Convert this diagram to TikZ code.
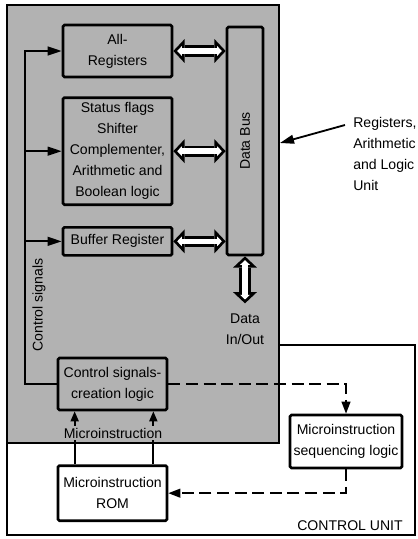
\documentclass[tikz,border=0pt]{standalone}
\usepackage{fontspec}
\setmainfont{Liberation Sans}
\usetikzlibrary{positioning,arrows.meta,calc}
\definecolor{halftone}{RGB}{178,178,178}
\tikzset{
  box/.style={draw, line width=1.9pt, rounded corners=1pt, minimum width=27.25mm,
              align=center, inner sep=1pt, font=\fontsize{10}{15}\selectfont},
  whitebox/.style={box, fill=white},
  sig/.style={line width=1.3pt, -{Triangle[length=3.5mm,width=2.2mm]}},
  tick/.style={line width=1.3pt, -{Triangle[length=2.5mm,width=2mm]}},
  seqline/.style={line width=1.2pt, dash pattern=on 3mm off 1.4mm,
                  -{Triangle[length=3mm,width=2.2mm]}},
  busarrow/.style={line width=8pt,
    {Triangle[length=8pt,width=17pt,line width=0pt]}-{Triangle[length=8pt,width=17pt,line width=0pt]},
    postaction={draw=white, line width=4pt, shorten >=2.75pt, shorten <=2.75pt,
    {Triangle[length=3.25pt,width=6.9pt,line width=0pt]}-{Triangle[length=3.25pt,width=6.9pt,line width=0pt]}}},
  lbl/.style={font=\fontsize{10}{15}\selectfont, align=center, inner sep=0pt}
}
\begin{document}
\begin{tikzpicture}[x=0.25mm, y=-0.25mm]
  \useasboundingbox (0,0) rectangle (417,539);
  % control unit frame, then the shaded register/ALU block
  \draw[line width=1.2pt, fill=white] (7,345) rectangle (415,535);
  \draw[line width=1.6pt, fill=halftone] (7,5) rectangle (279,443);
  \coordinate (edge) at (280,143);
  \coordinate (spine) at (25,0);

  \node[box, minimum height=13mm] (regs) at (117.5,51) {All-\\Registers};
  \node[box, minimum height=26.75mm, below=4.5mm of regs] (alu)
       {Status flags\\Shifter\\Complementer,\\Arithmetic and\\Boolean logic};
  \node[box, minimum height=7mm, below=5mm of alu] (buf) {Buffer Register};
  \node[box, minimum width=9mm, minimum height=57mm] (bus) at (245,141) {};
  \node[lbl, rotate=90] (bustxt) at (bus) {Data Bus};
  \node[lbl, below=14.25mm of bus] (io) {Data\\In/Out};

  \node[box, minimum height=13mm] (ctrl) at (112.5,384) {Control signals-\\creation logic};
  \node[whitebox, minimum height=13.75mm, below=13.25mm of ctrl] (rom) {Microinstruction\\ROM};
  \node[whitebox, minimum width=28mm, minimum height=13.25mm] (seq) at (346,441.5)
       {Microinstruction\\sequencing logic};
  \node[lbl, rotate=90] (cs) at (39,305) {Control signals};
  \node[lbl] (cu) at (350,526) {CONTROL UNIT};
  \node[lbl, align=left, anchor=north west] (rau) at (353,117)
       {Registers,\\Arithmetic\\and Logic\\Unit};

  % control signals
  \draw[sig] (ctrl.west) -| (spine |- regs.west) -- (regs.west);
  \draw[sig] (spine |- alu.west) -- (alu.west);
  \draw[sig] (spine |- buf.west) -- (buf.west);
  % data paths to the bus
  \draw[busarrow] (regs.east) -- (regs.east -| bus.west);
  \draw[busarrow] (alu.east) -- (alu.east -| bus.west);
  \draw[busarrow] (buf.east) -- (buf.east -| bus.west);
  \draw[busarrow] (bus.south) -- ([yshift=2.5mm]io.north);

  % microinstruction
  \draw[tick] ([shift={(18,0)}]rom.north west) -- ([shift={(18,0)}]ctrl.south west);
  \draw[tick] ([shift={(-15,0)}]rom.north east) -- ([shift={(-15,0)}]ctrl.south east);
  \node[lbl, fill=halftone, inner sep=1pt] (mi) at (113,433) {Microinstruction};

  % sequencing loop
  \draw[seqline] (ctrl.east) -| (seq.north);
  \draw[seqline] (seq.south) |- (rom.east);

  \draw[sig] ([shift={(-8,8)}]rau.north west) -- (edge);
\end{tikzpicture}
\end{document}
